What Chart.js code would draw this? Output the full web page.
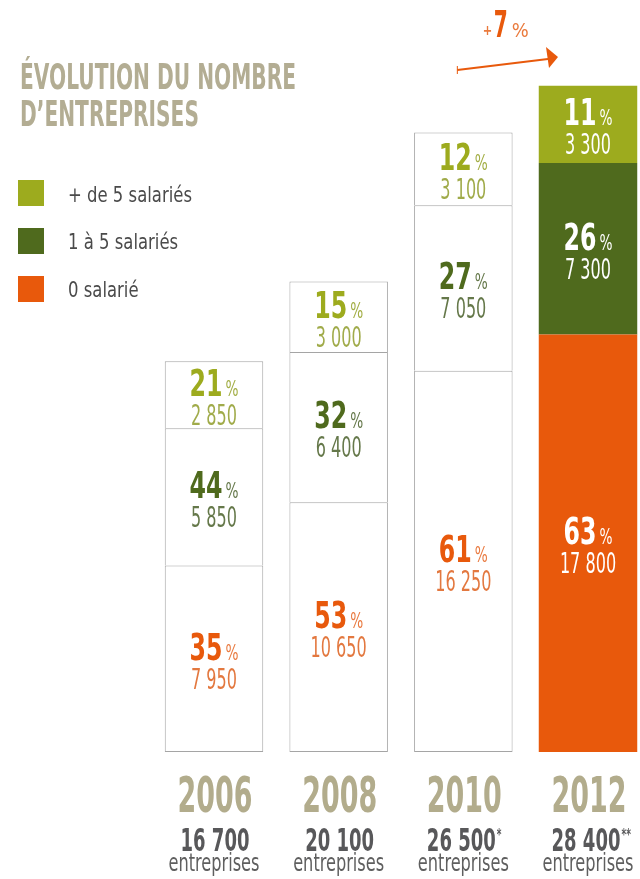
<!DOCTYPE html>
<html lang="fr">
<head>
<meta charset="utf-8">
<title>Évolution du nombre d'entreprises</title>
<script src="https://cdn.jsdelivr.net/npm/chart.js@4.4.1/dist/chart.umd.min.js"></script>
<style>
  html, body { margin: 0; padding: 0; background: #ffffff; }
  #wrap { position: relative; width: 640px; height: 879px; overflow: hidden; }
  #chart { position: absolute; left: 0; top: 0; }
  .title {
    position: absolute; left: 20px; margin: 0;
    font: bold 35px "Liberation Sans Narrow", "DejaVu Sans Condensed", sans-serif;
    line-height: 1; color: #b3ad93; white-space: nowrap; transform-origin: 0 0;
  }
  .swatch { position: absolute; left: 18px; width: 26px; height: 26px; }
  .legend-label {
    position: absolute; left: 68px;
    font: 22px "Liberation Sans Narrow", "DejaVu Sans Condensed", sans-serif;
    line-height: 1; color: #4a4a4a; white-space: nowrap; transform-origin: 0 0;
  }
</style>
</head>
<body>
<div id="wrap">
  <canvas id="chart" width="640" height="879"></canvas>
  <div class="title" id="title1" style="top:60px">ÉVOLUTION DU NOMBRE</div>
  <div class="title" id="title2" style="top:97px">D’ENTREPRISES</div>
  <div class="swatch" style="top:180px;background:#9dab1e"></div>
  <div class="legend-label" style="top:184px">+ de 5 salariés</div>
  <div class="swatch" style="top:228px;background:#4f6a1d"></div>
  <div class="legend-label" style="top:231px">1 à 5 salariés</div>
  <div class="swatch" style="top:276px;background:#e8590c"></div>
  <div class="legend-label" style="top:279px">0 salarié</div>
</div>
<script>
// ---- data ----
const years = ['2006', '2008', '2010', '2012'];
const zeroSalarie = [7950, 10650, 16250, 17800];
const unACinqSalaries = [5850, 6400, 7050, 7300];
const plusDeCinqSalaries = [2850, 3000, 3100, 3300];
const pctZeroSalarie = [35, 53, 61, 63];
const pctUnACinq = [44, 32, 27, 26];
const pctPlusDeCinq = [21, 15, 12, 11];
const totals = [16700, 20100, 26500, 28400];
const totalNotes = ['', '', '*', '**'];
const growthLabel = ['+', '7', '%'];

// ---- colours ----
const LIGHT = '#9dab1e';
const DARK = '#4f6a1d';
const ORANGE = '#e8590c';
const BORDER = '#a5a5a5';
const FONT = '"Liberation Sans Narrow", "DejaVu Sans Condensed", sans-serif';

const pctColors = [ORANGE, DARK, LIGHT];
const valueColors = ['#e3783f', '#65784a', '#a0ab4a'];
const signColors = ['#e97a40', '#65784a', '#a3ae45'];
const pctSets = [pctZeroSalarie, pctUnACinq, pctPlusDeCinq];

function fmt(n) {
    return String(n).replace(/\B(?=(\d{3})+(?!\d))/g, ' ');
}

// squeeze a font so that a sample string gets a given width
function fitFactor(ctx, font, sample, width) {
    ctx.save();
    ctx.font = font;
    const w = ctx.measureText(sample).width;
    ctx.restore();
    return width / w;
}

function textWidth(ctx, text, font, sx) {
    ctx.save();
    ctx.font = font;
    const w = ctx.measureText(text).width * sx;
    ctx.restore();
    return w;
}

function drawText(ctx, text, x, y, font, color, sx, align) {
    ctx.save();
    ctx.font = font;
    ctx.fillStyle = color;
    ctx.textAlign = align || 'center';
    ctx.textBaseline = 'alphabetic';
    ctx.translate(x, y);
    ctx.scale(sx, 1);
    ctx.fillText(text, 0, 0);
    ctx.restore();
}

function segmentColors(color) {
    return years.map((y, i) => i === years.length - 1 ? color : '#ffffff');
}

const segmentLabels = {
    id: 'segmentLabels',
    afterDatasetsDraw(chart) {
        const ctx = chart.ctx;
        const pctFont = 'bold 38px ' + FONT;
        const signFont = '21px ' + FONT;
        const valFont = '28px ' + FONT;
        const sxPct = fitFactor(ctx, pctFont, '27', 33);
        const sxVal = fitFactor(ctx, valFont, '7 050', 46);
        const sxSign = fitFactor(ctx, signFont, '%', 13);

        chart.data.datasets.forEach((ds, d) => {
            const meta = chart.getDatasetMeta(d);
            meta.data.forEach((bar, i) => {
                const cx = bar.x;
                const cy = (bar.y + bar.base) / 2;
                const filled = i === years.length - 1;
                const num = String(pctSets[d][i]);
                const nw = textWidth(ctx, num, pctFont, sxPct);
                const start = cx - (nw + 3 + 13) / 2;
                drawText(ctx, num, start, cy + 1, pctFont, filled ? '#ffffff' : pctColors[d], sxPct, 'left');
                drawText(ctx, '%', start + nw + 3, cy + 1, signFont, filled ? '#ffffff' : signColors[d], sxSign, 'left');
                drawText(ctx, fmt(ds.data[i]), cx, cy + 30, valFont, filled ? '#ffffff' : valueColors[d], sxVal, 'center');
            });
        });
    }
};

const bottomLabels = {
    id: 'bottomLabels',
    afterDraw(chart) {
        const ctx = chart.ctx;
        const yearFont = 'bold 49px ' + FONT;
        const totalFont = 'bold 32px ' + FONT;
        const noteFont = 'bold 16px ' + FONT;
        const entFont = '25px ' + FONT;
        const sxYear = fitFactor(ctx, yearFont, '2006', 75);
        const sxTotal = fitFactor(ctx, totalFont, '16 700', 69);
        const sxEnt = fitFactor(ctx, entFont, 'entreprises', 91);
        const meta = chart.getDatasetMeta(0);

        meta.data.forEach((bar, i) => {
            const cx = bar.x;
            drawText(ctx, years[i], cx + 1, 812, yearFont, '#b2ac8c', sxYear, 'center');
            const t = fmt(totals[i]);
            const tw = textWidth(ctx, t, totalFont, sxTotal);
            const left = cx + 1 - tw / 2 - (totalNotes[i] ? 3 : 0);
            drawText(ctx, t, left, 851, totalFont, '#58585a', sxTotal, 'left');
            if (totalNotes[i]) {
                drawText(ctx, totalNotes[i], left + tw + 1, 840, noteFont, '#58585a', sxTotal, 'left');
            }
            drawText(ctx, 'entreprises', cx, 871, entFont, '#5f5f5f', sxEnt, 'center');
        });

        // growth arrow between 2010 and 2012
        const x0 = meta.data[2].x - 6;
        const x1 = meta.data[3].x - 30;
        ctx.save();
        ctx.strokeStyle = ORANGE;
        ctx.fillStyle = ORANGE;
        ctx.lineWidth = 2;
        ctx.beginPath();
        ctx.moveTo(x0, 70);
        ctx.lineTo(x1 - 10, 59);
        ctx.stroke();
        ctx.beginPath();
        ctx.moveTo(x0, 66);
        ctx.lineTo(x0, 74);
        ctx.lineWidth = 1;
        ctx.stroke();
        ctx.beginPath();
        ctx.moveTo(x1, 57);
        ctx.lineTo(x1 - 12, 47);
        ctx.lineTo(x1 - 9, 68);
        ctx.closePath();
        ctx.fill();
        ctx.restore();

        const gx = (x0 + x1) / 2;
        const bigFont = 'bold 38px ' + FONT;
        const sxBig = fitFactor(ctx, bigFont, '7', 14);
        drawText(ctx, growthLabel[0], gx - 25, 35, 'bold 14px ' + FONT, '#ea7a3c', 0.9, 'left');
        drawText(ctx, growthLabel[1], gx - 14, 37, bigFont, ORANGE, sxBig, 'left');
        drawText(ctx, growthLabel[2], gx + 4, 37, '20px ' + FONT, '#ea7a3c', fitFactor(ctx, '20px ' + FONT, '%', 17), 'left');
    }
};

// condense the html title and legend to their widths in the picture
(function () {
    const c = document.createElement('canvas').getContext('2d');
    const sx = fitFactor(c, 'bold 35px ' + FONT, 'ÉVOLUTION DU NOMBRE', 276);
    document.getElementById('title1').style.transform = 'scaleX(' + sx + ')';
    document.getElementById('title2').style.transform = 'scaleX(' + sx + ')';
    const lx = fitFactor(c, '22px ' + FONT, '+ de 5 salariés', 124);
    document.querySelectorAll('.legend-label').forEach(el => {
        el.style.transform = 'scaleX(' + lx + ')';
    });
})();

new Chart(document.getElementById('chart'), {
    type: 'bar',
    data: {
        labels: years,
        datasets: [
            {
                label: '0 salarié',
                data: zeroSalarie,
                backgroundColor: segmentColors(ORANGE),
                borderColor: BORDER,
                borderWidth: [1, 1, 1, 0],
                borderSkipped: false
            },
            {
                label: '1 à 5 salariés',
                data: unACinqSalaries,
                backgroundColor: segmentColors(DARK),
                borderColor: BORDER,
                borderWidth: [1, 1, 1, 0],
                borderSkipped: 'start'
            },
            {
                label: '+ de 5 salariés',
                data: plusDeCinqSalaries,
                backgroundColor: segmentColors(LIGHT),
                borderColor: BORDER,
                borderWidth: [1, 1, 1, 0],
                borderSkipped: 'start'
            }
        ]
    },
    options: {
        responsive: false,
        animation: false,
        layout: { padding: { left: 214, right: 52, top: 81, bottom: 127 } },
        datasets: { bar: { clip: false, categoryPercentage: 1, barPercentage: 0.79 } },
        scales: {
            x: { stacked: true, offset: false, display: false },
            y: { stacked: true, display: false, min: 0, max: 28600 }
        },
        plugins: {
            legend: { display: false },
            tooltip: { enabled: false }
        }
    },
    plugins: [segmentLabels, bottomLabels]
});
</script>
</body>
</html>
